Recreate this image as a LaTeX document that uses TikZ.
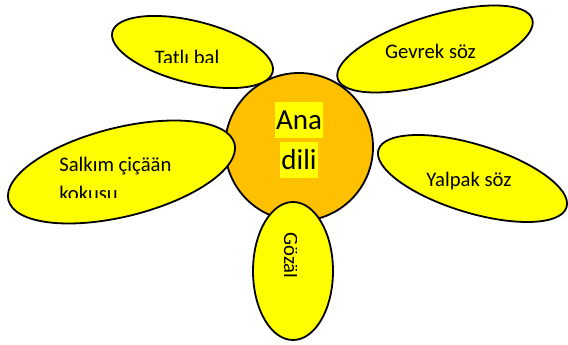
\documentclass[tikz,border=0pt]{standalone}
\usepackage{fontspec}
\setmainfont{Carlito}
\usetikzlibrary{shapes.geometric, positioning}
\definecolor{petalyellow}{RGB}{255,255,0}
\definecolor{coreorange}{RGB}{255,192,0}

\begin{document}
\begin{tikzpicture}[x=0.75pt,y=-0.75pt,
    petal/.style={ellipse,draw=black,line width=1.35pt,fill=petalyellow,inner sep=0pt},
    petaltext/.style={font=\fontsize{15.5}{21.75}\selectfont,inner sep=0pt},
    hltext/.style={fill=petalyellow,font=\fontsize{21.75}{30}\selectfont,inner xsep=0.8pt,inner ysep=0pt,text height=21pt,text depth=6pt}]
    \useasboundingbox (0,0) rectangle (568,345);
    % centre of the flower
    \node[circle,draw=black,line width=1.35pt,fill=coreorange,minimum size=111pt,inner sep=0pt] (core) at (299,147) {};
    % petals: name/x/y/width/height/angle
    \foreach \name/\x/\y/\w/\h/\ang in {tatli/192.5/52/123.9/46.4/-14, gevrek/435/49/152.6/49.8/17, yalpak/472.5/178.5/147.5/51.2/-17, salkim/121.5/172/174.8/66.6/14, gozal/293/271/60/103.5/0} {
        \node[petal,minimum width=\w pt,minimum height=\h pt,rotate=\ang] (\name) at (\x,\y) {};
    }
    \node[hltext,anchor=base] (ana) at (299,130) {Ana};
    \node[hltext,anchor=base] (dili) at (299,170) {dili};
    \begin{scope}
        \clip (100,0) rectangle (280,63);
        \node[petaltext,anchor=base] (tatlitext) at (187,65) {Tatlı bal};
    \end{scope}
    \node[petaltext,anchor=base] (gevrektext) at (430.5,59) {Gevrek söz};
    \node[petaltext,anchor=base] (yalpaktext) at (469,187) {Yalpak söz};
    \begin{scope}
        \clip (0,100) rectangle (250,198);
        \node[petaltext,anchor=base west] (salkimtext) at (59,172) {Salkım çiçään};
        \node[petaltext,anchor=base west] (kokusutext) at (59,201) {kokusu};
    \end{scope}
    \begin{scope}
        \clip (250,200) rectangle (296,345);
        \node[petaltext,rotate=-90,anchor=base] (gozaltext) at (284,255.5) {Gözäl};
    \end{scope}
\end{tikzpicture}
\end{document}
